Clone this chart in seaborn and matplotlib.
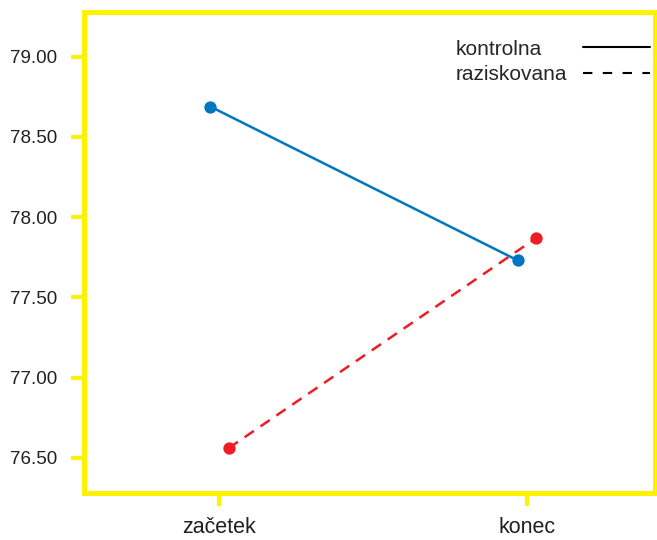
import matplotlib
matplotlib.use("Agg")
import matplotlib.pyplot as plt
from matplotlib.lines import Line2D
import pandas as pd
import seaborn as sns

# Podatki
faze = ["začetek", "konec"]
skupine = ["kontrolna", "raziskovana"]
kontrolna = [78.69, 77.73]
raziskovana = [76.56, 77.87]

barve = ["#0077c0", "#ee1d25"]
rumena = "#fff200"

df = pd.DataFrame({
    "faza": faze * 2,
    "skupina": [skupine[0]] * 2 + [skupine[1]] * 2,
    "vrednost": kontrolna + raziskovana,
})

sns.set_style("white")
plt.rcParams["font.family"] = ["Liberation Sans", "DejaVu Sans"]

fig = plt.figure(figsize=(6.57, 5.4), dpi=100)
ax = fig.add_axes([0.128, 0.087, 0.869, 0.891])

sns.pointplot(data=df, x="faza", y="vrednost", hue="skupina", order=faze,
              hue_order=skupine, palette=barve, linestyles=["-", "--"],
              dodge=0.06, markers="o", markersize=7.5, linewidth=1.8,
              errorbar=None, ax=ax)

for line in ax.lines:
    if line.get_linestyle() == "--":
        line.set_dashes((4.5, 3.2))

ax.set_xlim(-0.44, 1.416)
ax.set_ylim(76.28, 79.28)
ax.set_yticks([76.5, 77.0, 77.5, 78.0, 78.5, 79.0])
ax.set_yticklabels([f"{v:.2f}" for v in [76.5, 77.0, 77.5, 78.0, 78.5, 79.0]])
ax.set_xlabel("")
ax.set_ylabel("")

for s in ax.spines.values():
    s.set_visible(True)
    s.set_color(rumena)
    s.set_linewidth(3.6)

ax.tick_params(axis="both", which="major", direction="out", length=9.5, width=3,
               color=rumena, labelcolor="#231f20", left=True, bottom=True)
ax.tick_params(axis="y", labelsize=13.5, pad=10)
ax.tick_params(axis="x", labelsize=15.5, pad=8)

# legenda: besedilo levo poravnano, črte desno
ax.get_legend().remove()
prazno = [Line2D([], [], linestyle="none"), Line2D([], [], linestyle="none")]
crte = [Line2D([], [], color="black", lw=1.5, ls="-"),
        Line2D([], [], color="black", lw=1.5, dashes=(4.5, 5))]
ax.legend(prazno + crte, skupine + ["", ""], ncol=2, loc="upper right",
          frameon=False, fontsize=15, handlelength=3.2, handletextpad=0.7,
          labelspacing=0.3, columnspacing=0.75,
          bbox_to_anchor=(1.038, 0.968), borderaxespad=0.2)

fig.savefig("out.png", dpi=100)
